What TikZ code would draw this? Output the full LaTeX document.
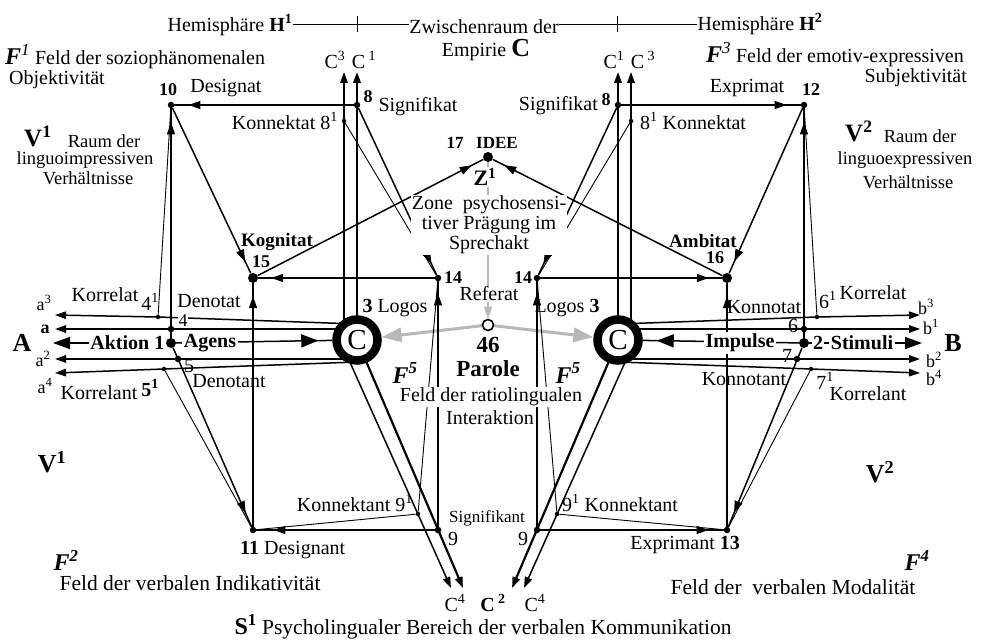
\documentclass[tikz,border=0pt]{standalone}
\usepackage{fontspec}
\setmainfont{Liberation Serif}
\usetikzlibrary{arrows.meta,decorations.markings}
\pgfdeclarelayer{back}
\pgfdeclarelayer{bg}
\pgfsetlayers{back,bg,main}
\newcommand\myfs[1]{\fontsize{#1}{#1}\selectfont}
\newcommand\bsup[1]{\textsuperscript{\textbf{#1}}}
\begin{document}
\begin{tikzpicture}[x=1pt,y=-1pt,
  every node/.style={inner sep=0pt,font=\myfs{20}},
  lnw/.style={line width=1.5pt},
  tnw/.style={line width=0.9pt},
  tkw/.style={line width=2.2pt},
  midar/.style={postaction={decorate},decoration={markings,mark=at position #1 with {\arrow{Triangle[length=12pt,width=8pt]}}}},
  bigmid/.style={postaction={decorate},decoration={markings,mark=at position #1 with {\arrow{Triangle[length=17pt,width=13pt]}}}},
  endar/.style={-{Triangle[length=11pt,width=7.5pt]}},
  bigar/.style={-{Triangle[length=17pt,width=12pt]}},
  dotL/.style={circle,fill=black,minimum size=10pt},
  dotM/.style={circle,fill=black,minimum size=6.5pt},
  dotS/.style={circle,fill=black,minimum size=4.5pt},
  cring/.style={circle,draw,line width=8.5pt,fill=white,minimum size=41pt,font=\myfs{29}},
  wf/.style={fill=white,inner sep=1.5pt},
  greyc/.style={color=black!28},
  bnum/.style={font=\myfs{18}\bfseries},
  bigb/.style={font=\myfs{26}\bfseries},
  fbi/.style={font=\myfs{24}\bfseries\itshape},
  small/.style={font=\myfs{18}},
  vtxt/.style={font=\myfs{18.5}},
]
\useasboundingbox (0,0) rectangle (981,639);
\begin{pgfonlayer}{back}
\fill[white] (0,0) rectangle (981,639);
\end{pgfonlayer}

% ---------- dots and circles ----------
\node[dotL] (n1) at (171,343) {};
\node[dotL] (n2) at (804,343) {};
\node[dotM] (n4) at (171,329) {};
\node[dotM] (n6) at (804,329) {};
\node[dotS] (n41) at (158,317) {};
\node[dotS] (n61) at (817,317) {};
\node[dotM] (n5) at (178,359) {};
\node[dotM] (n7) at (797,359) {};
\node[dotS] (n51) at (164,369) {};
\node[dotS] (n71) at (811,369) {};
\node[dotM] (n10) at (171,105) {};
\node[dotM] (n12) at (804,105) {};
\node[dotM] (n8) at (357,105) {};
\node[dotM] (n8r) at (618,105) {};
\node[dotS] (n81) at (344,121) {};
\node[dotS] (n81r) at (631,121) {};
\node[dotM] (n14) at (438,278) {};
\node[dotM] (n14r) at (537,278) {};
\node[dotL] (n15) at (253,278) {};
\node[dotL] (n16) at (727,278) {};
\node[dotM] (n11) at (253,530) {};
\node[dotM] (n13) at (727,530) {};
\node[dotM] (n9) at (438,530) {};
\node[dotM] (n9r) at (537,530) {};
\node[dotS] (n91) at (418,514) {};
\node[dotS] (n91r) at (557,514) {};
\node[dotL] (n17) at (488,157) {};
\node[circle,draw,line width=1.6pt,fill=white,minimum size=11pt] (n46) at (488,325) {};
\node[cring] (CL) at (357,340) {C};
\node[cring] (CR) at (618,340) {C};

% ---------- free ends ----------
\coordinate (a3) at (55,315);
\coordinate (a1) at (55,329);
\coordinate (A) at (53,343);
\coordinate (a2) at (55,359);
\coordinate (a4) at (55,373);
\coordinate (b3) at (920,315);
\coordinate (b1) at (920,329);
\coordinate (B) at (922,343);
\coordinate (b2) at (920,359);
\coordinate (b4) at (920,373);
\coordinate (sa3) at (357,324);
\coordinate (sa1) at (357,329);
\coordinate (sa2) at (357,359);
\coordinate (sa4) at (357,362);
\coordinate (sb3) at (618,324);
\coordinate (sb1) at (618,329);
\coordinate (sb2) at (618,359);
\coordinate (sb4) at (618,362);
\coordinate (c3L) at (344,72);
\coordinate (c1L) at (357,72);
\coordinate (c1R) at (618,72);
\coordinate (c3R) at (631,72);
\coordinate (c4L) at (451,588);
\coordinate (c2L) at (463,588);
\coordinate (c2R) at (512,588);
\coordinate (c4R) at (524,588);
\coordinate (s4L) at (340,340);
\coordinate (s4R) at (635,340);

% ---------- connectors ----------
\begin{pgfonlayer}{bg}
% grey
\draw[greyc,line width=1.5pt,-{Triangle[length=12pt,width=8pt]}] (n17) -- (n46);
\draw[greyc,line width=3pt,-{Triangle[length=20pt,width=14pt]}] (n46) -- (CL);
\draw[greyc,line width=3pt,-{Triangle[length=20pt,width=14pt]}] (n46) -- (CR);
% left horizontals
\draw[lnw,endar] (sa3) -- (n41.center) -- (a3);
\draw[lnw,endar] (sa1) -- (a1);
\draw[lnw,endar] (sa2) -- (a2);
\draw[lnw,endar] (sa4) -- (n51.center) -- (a4);
\draw[lnw,bigar] (n1) -- (A);
\draw[lnw,bigmid=-14pt] (n1) -- (CL);
% right horizontals
\draw[lnw,endar] (sb3) -- (n61.center) -- (b3);
\draw[lnw,endar] (sb1) -- (b1);
\draw[lnw,endar] (sb2) -- (b2);
\draw[lnw,endar] (sb4) -- (n71.center) -- (b4);
\draw[lnw,bigar] (n2) -- (B);
\draw[lnw,bigmid=-14pt] (n2) -- (CR);
% C verticals / diagonals
\draw[tkw,endar] (CL.center) -- (c1L);
\draw[lnw,endar] (CL.center -| c3L) -- (c3L);
\draw[tkw,endar] (CR.center) -- (c1R);
\draw[lnw,endar] (CR.center -| c3R) -- (c3R);
\draw[tkw,endar] (CL.center) -- (c2L);
\draw[lnw,endar] (s4L) -- (c4L);
\draw[tkw,endar] (CR.center) -- (c2R);
\draw[lnw,endar] (s4R) -- (c4R);
% left network
\draw[lnw,midar=-14pt] (n1) -- (n10);
\draw[tnw] (n41) -- (n10);
\draw[lnw,midar=-14pt] (n8) -- (n10);
\draw[lnw,midar=-13pt] (n10) -- (n15);
\draw[lnw,midar=-12pt] (n8) -- (n14);
\draw[tnw] (n81) -- (n14);
\draw[lnw,midar=-13pt] (n14) -- (n15);
\draw[lnw,midar=-13pt] (n15) -- (n17);
\draw[lnw,midar=-13pt] (n11) -- (n15);
\draw[lnw,midar=-12pt] (n9) -- (n14);
\draw[tnw] (n91) -- (n14);
\draw[lnw,midar=-17pt] (n9) -- (n11);
\draw[tnw] (n91) -- (n11);
\draw[lnw,midar=-15pt] (n1) -- (n11);
\draw[tnw] (n51) -- (n11);
% right network
\draw[lnw,midar=-14pt] (n2) -- (n12);
\draw[tnw] (n61) -- (n12);
\draw[lnw,midar=-14pt] (n8r) -- (n12);
\draw[lnw,midar=-13pt] (n12) -- (n16);
\draw[lnw,midar=-12pt] (n8r) -- (n14r);
\draw[tnw] (n81r) -- (n14r);
\draw[lnw,midar=-13pt] (n14r) -- (n16);
\draw[lnw,midar=-13pt] (n16) -- (n17);
\draw[lnw,midar=-13pt] (n13) -- (n16);
\draw[lnw,midar=-12pt] (n9r) -- (n14r);
\draw[tnw] (n91r) -- (n14r);
\draw[lnw,midar=-15pt] (n9r) -- (n13);
\draw[tnw] (n91r) -- (n13);
\draw[lnw,midar=-15pt] (n2) -- (n13);
\draw[tnw] (n71) -- (n13);
\end{pgfonlayer}

% ---------- top ----------
\node (hemi1) at (230,25) {Hemisphäre \textbf{H}\bsup{1}};
\node (zw) at (484,27) {Zwischenraum der};
\node (hemi2) at (760,24) {Hemisphäre \textbf{H}\bsup{2}};
\draw[line width=0.9pt] (hemi1.east |- 0,24) -- (zw.west |- 0,24);
\draw[line width=0.9pt] (zw.east |- 0,24) -- (hemi2.west |- 0,24);
\draw[line width=0.9pt] (357,16) -- (357,32);
\draw[line width=0.9pt] (617,16) -- (617,32);
\node at (486,50) {Empirie {\myfs{26}\textbf{C}}};
\node at (335,60) {C\textsuperscript{3}};
\node at (364,60) {C\,\textsuperscript{1}};
\node at (614,60) {C\textsuperscript{1}};
\node at (643,60) {C\,\textsuperscript{3}};

\node[anchor=west] at (5,57) {{\myfs{24}\textbf{\textit{F}}\textsuperscript{\textit{1}}} Feld der soziophänomenalen};
\node[anchor=west] at (9,80) {Objektivität};
\node[bnum] at (168,90) {10};
\node at (226,88) {Designat};
\node[bnum] at (368,97) {8};
\node at (418,107) {Signifikat};
\node[anchor=east] at (338,121) {Konnektat 8\textsuperscript{1}};
\node[anchor=east] at (598,106) {Signifikat};
\node[bnum] at (606,100) {8};
\node[anchor=west] at (640,121) {8\textsuperscript{1} Konnektat};
\node at (747,88) {Exprimat};
\node[bnum] at (811,90) {12};
\node[anchor=west] at (706,55) {{\myfs{24}\textbf{\textit{F}}\textsuperscript{\textit{3}}} Feld der emotiv-expressiven};
\node[anchor=east] at (967,78) {Subjektivität};

\node[anchor=west,font=\myfs{25}\bfseries] at (24,136) {V\textsuperscript{1}};
\node[vtxt] at (104,141) {Raum der};
\node[vtxt] at (85,160) {linguoimpressiven};
\node[vtxt] at (88,178) {Verhältnisse};
\node[anchor=west,font=\myfs{25}\bfseries] at (845,131) {V\textsuperscript{2}};
\node[vtxt] at (920,136) {Raum der};
\node[vtxt] at (905,160) {linguoexpressiven};
\node[vtxt] at (908,182) {Verhältnisse};

% ---------- centre ----------
\node[font=\myfs{17}\bfseries] at (455,143) {17};
\node[font=\myfs{17}\bfseries] at (497,143) {IDEE};
\node[fill=white,inner sep=1pt,font=\myfs{22}\bfseries] at (485,177) {Z\textsuperscript{1}};
\node[fill=white,inner sep=1pt,align=center] at (489,225) {Zone\ \ psychosensi-\\tiver Prägung im\\Sprechakt};
\node[font=\myfs{19}\bfseries] at (277,242) {Kognitat};
\node[bnum] at (261,262) {15};
\node[font=\myfs{19}\bfseries] at (703,241) {Ambitat};
\node[bnum] at (715,258) {16};
\node[bnum] at (453,278) {14};
\node[bnum] at (523,278) {14};
\node[fill=white,inner sep=1pt] at (489,294) {Referat};
\node at (395,308) {\textbf{3} Logos};
\node at (567,308) {Logos \textbf{3}};
\node[font=\myfs{23}\bfseries] at (488,345) {46};
\node[font=\myfs{23}\bfseries] at (488,369) {Parole};
\node[fbi] at (405,373) {F\textsuperscript{5}};
\node[fbi] at (568,373) {F\textsuperscript{5}};

% ---------- left labels ----------
\node at (105,295) {Korrelat};
\node at (150,302) {4\textsuperscript{1}};
\node[small] at (44,303) {a\textsuperscript{3}};
\node[font=\myfs{18}\bfseries] at (45,329) {a};
\node[bigb] at (22,343) {A};
\node[small] at (43,359) {a\textsuperscript{2}};
\node[small] at (45,386) {a\textsuperscript{4}};
\node[wf,anchor=east,font=\myfs{20}\bfseries] at (166,343) {Aktion 1};
\node[wf,font=\myfs{20}\bfseries] at (210,343) {Agens};
\node at (209,301) {Denotat};
\node[wf,inner sep=0.6pt,font=\myfs{18}] at (183,321) {4};
\node at (189,366) {5};
\node at (229,381) {Denotant};
\node at (99,393) {Korrelant};
\node[font=\myfs{20}\bfseries] at (150,388) {5\textsuperscript{1}};

% ---------- right labels ----------
\node at (764,307) {Konnotat};
\node at (793,326) {6};
\node[anchor=west] at (819,300) {6\textsuperscript{1}};
\node at (873,293) {Korrelat};
\node[small] at (926,307) {b\textsuperscript{3}};
\node[small] at (931,327) {b\textsuperscript{1}};
\node[bigb] at (953,343) {B};
\node[small] at (934,360) {b\textsuperscript{2}};
\node[small] at (934,378) {b\textsuperscript{4}};
\node[wf,font=\myfs{20}\bfseries] at (740,343) {Impulse};
\node[wf,inner sep=1pt,font=\myfs{20}\bfseries] at (818,343) {2};
\node[wf,font=\myfs{20}\bfseries] at (862,343) {Stimuli};
\node at (787,356) {7};
\node at (744,379) {Konnotant};
\node at (825,381) {7\textsuperscript{1}};
\node at (868,394) {Korrelant};

% ---------- bottom ----------
\node[bigb] at (52,462) {V\textsuperscript{1}};
\node[bigb] at (880,472) {V\textsuperscript{2}};
\node[fill=white,inner sep=1pt] at (491,397) {Feld der ratiolingualen};
\node[fill=white,inner sep=1pt] at (490,418) {Interaktion};
\node[anchor=east] at (413,503) {Konnektant 9\textsuperscript{1}};
\node[font=\myfs{17}] at (487,518) {Signifikant};
\node at (453,539) {9};
\node at (523,539) {9};
\node[anchor=west] at (562,503) {9\textsuperscript{1} Konnektant};
\node[anchor=west] at (240,550) {\textbf{11} Designant};
\node[anchor=east] at (740,545) {Exprimant \textbf{13}};
\node[fbi] at (66,560) {F\textsuperscript{2}};
\node[font=\myfs{21.5}] at (190,583) {Feld der verbalen Indikativität};
\node[fbi] at (917,560) {F\textsuperscript{4}};
\node[font=\myfs{21.5}] at (793,587) {Feld der\ \ verbalen Modalität};
\node at (455,603) {C\textsuperscript{4}};
\node at (493,603) {\textbf{C}\,\bsup{2}};
\node at (535,603) {C\textsuperscript{4}};
\node[font=\myfs{21.5}] at (483,627) {{\myfs{24}\textbf{S}\bsup{1}} Psycholingualer Bereich der verbalen Kommunikation};
\end{tikzpicture}
\end{document}
